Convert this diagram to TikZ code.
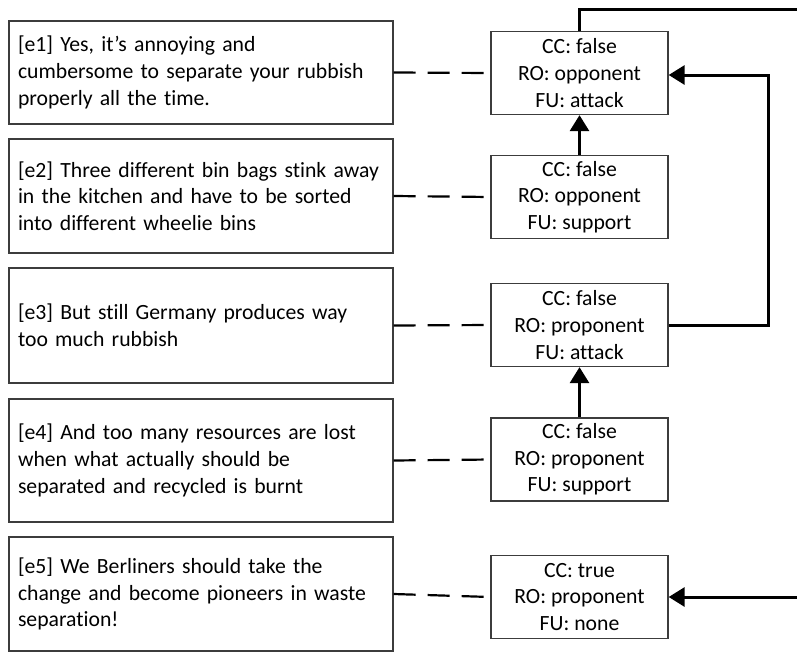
\documentclass[tikz,border=0pt]{standalone}
\usepackage{fontspec}
\setmainfont{Carlito}[Ligatures=NoCommon]
\usetikzlibrary{arrows.meta,calc}

\begin{document}
\begin{tikzpicture}[x=1pt,y=-1pt,
	ebox/.style={draw=boxline,line width=1.3pt,minimum width=384pt,text width=366pt,inner xsep=9pt,inner ysep=10pt,align=left,font=\fontsize{21.7}{26.6}\selectfont},
	rbox/.style={draw=boxline,line width=1.3pt,minimum width=177pt,minimum height=83pt,inner sep=2pt,align=center,font=\fontsize{21.7}{26.6}\selectfont},
	link/.style={line width=2.2pt,dash pattern=on 22pt off 12pt},
	rel/.style={line width=3pt,-{Triangle[length=16pt,width=19pt]}}]
	\definecolor{boxline}{RGB}{60,60,60}
	\useasboundingbox (0,0) rectangle (797,653);
	% left column: text segments
	\node (e1) at (201,72.5) [ebox,minimum height=103pt]{[e1] Yes, it’s annoying and\\cumbersome to separate your rubbish\\properly all the time.};
	\node (e2) at (201,196) [ebox,minimum height=114pt]{[e2] Three different bin bags stink away\\in the kitchen and have to be sorted\\into different wheelie bins};
	\node (e3) at (201,325.5) [ebox,minimum height=115pt]{[e3] But still Germany produces way\\too much rubbish};
	\node (e4) at (201,460.5) [ebox,minimum height=123pt]{[e4] And too many resources are lost\\when what actually should be\\separated and recycled is burnt};
	\node (e5) at (201,594) [ebox,minimum height=114pt]{[e5] We Berliners should take the\\change and become pioneers in waste\\separation!};
	% right column: annotations
	\node (r1) at (579.5,73) [rbox]{CC: false\\RO: opponent\\FU: attack};
	\node (r2) at (579.5,197) [rbox]{CC: false\\RO: opponent\\FU: support};
	\node (r3) at (579.5,325) [rbox]{CC: false\\RO: proponent\\FU: attack};
	\node (r4) at (579.5,459.5) [rbox]{CC: false\\RO: proponent\\FU: support};
	\node (r5) at (579.5,597) [rbox]{CC: true\\RO: proponent\\FU: none};
	\foreach \i in {1,...,5}
		\draw[link] (e\i.east) -- (r\i.west);
	% relations
	\coordinate (topend) at (797,9);
	\coordinate (bend) at (768,325);
	\coordinate (lowend) at (797,597);
	\draw[rel] (r2.north) -- (r1.south);
	\draw[rel] (r4.north) -- (r3.south);
	\draw[rel] (r3.east) -- (bend) |- ($(r1.east)+(0,2)$);
	\draw[line width=3pt] (r1.north) |- (topend);
	\draw[rel] (lowend) -- (r5.east);
\end{tikzpicture}
\end{document}
